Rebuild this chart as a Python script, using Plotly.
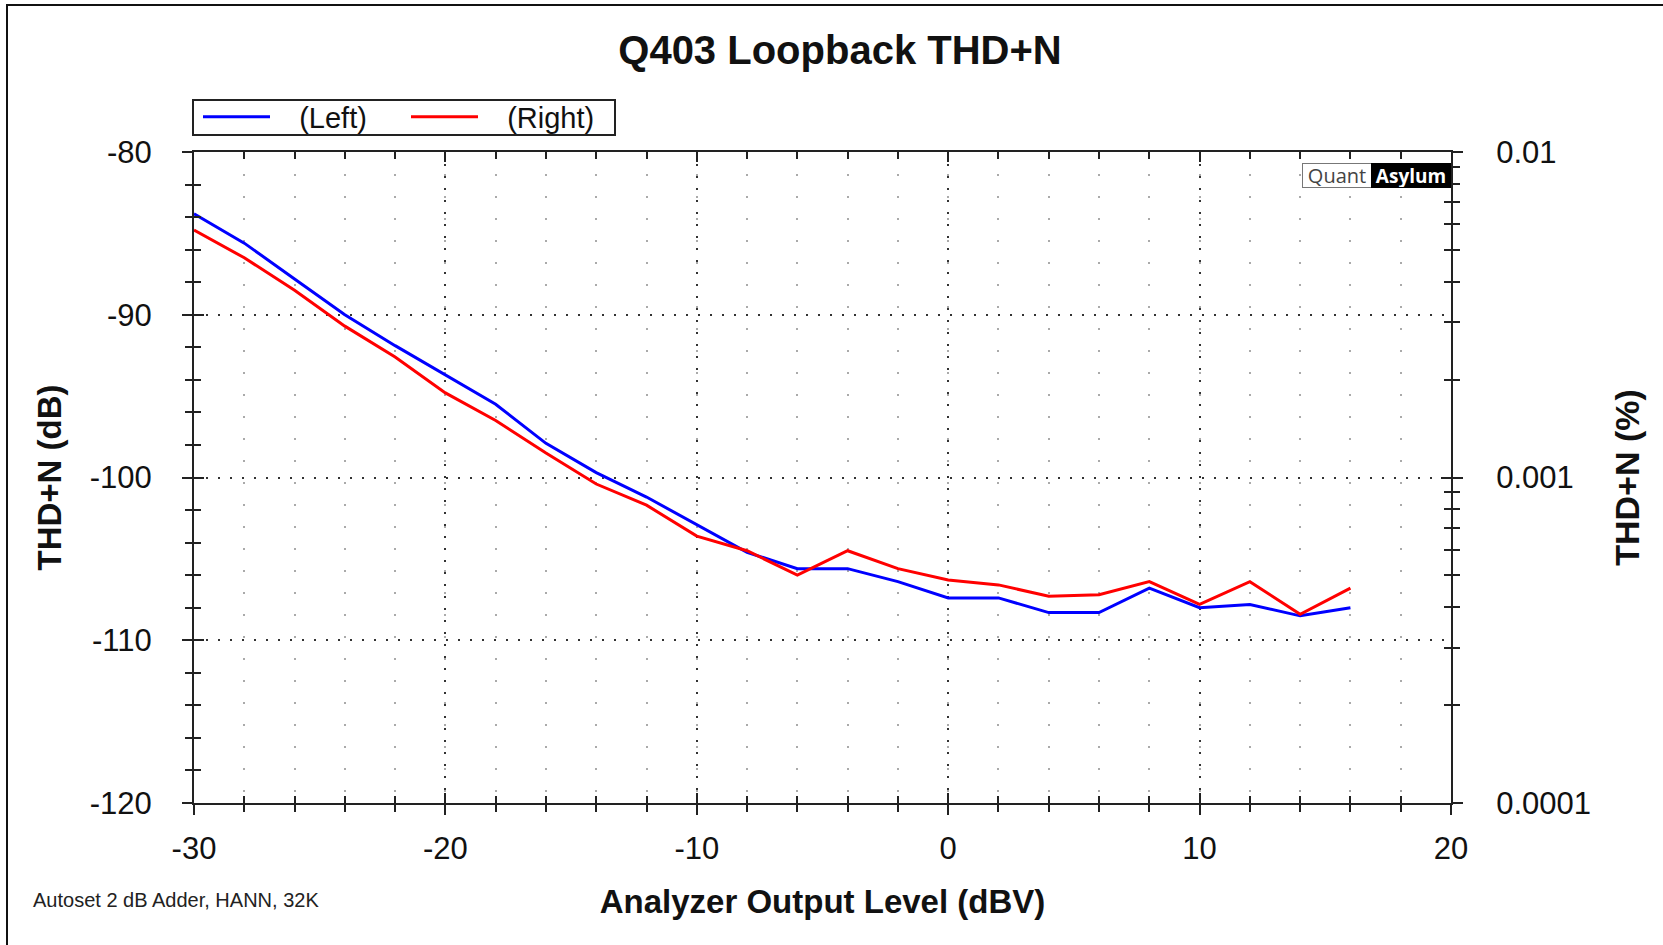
import plotly.graph_objects as go

# ---- data ----
level_dbv = [-30, -28, -26, -24, -22, -20, -18, -16, -14, -12, -10, -8,
             -6, -4, -2, 0, 2, 4, 6, 8, 10, 12, 14, 16]
left_db = [-83.8, -85.6, -87.8, -90.0, -91.9, -93.7, -95.5, -97.9, -99.7, -101.2, -102.9, -104.6,
           -105.6, -105.6, -106.4, -107.4, -107.4, -108.3, -108.3, -106.8, -108.0, -107.8, -108.5, -108.0]
right_db = [-84.8, -86.5, -88.5, -90.7, -92.6, -94.8, -96.5, -98.5, -100.4, -101.7, -103.6, -104.5,
            -106.0, -104.5, -105.6, -106.3, -106.6, -107.3, -107.2, -106.4, -107.8, -106.4, -108.4, -106.8]
series_names = ["(Left)", "(Right)"]
series_colors = ["#0000ff", "#ff0000"]

x_range = [-30, 20]
x_tickvals = [-30, -20, -10, 0, 10, 20]
x_ticktext = ["-30", "-20", "-10", "0", "10", "20"]
db_range = [-120, -80]
db_tickvals = [-120, -110, -100, -90, -80]
db_ticktext = ["-120", "-110", "-100", "-90", "-80"]
pct_tickvals = [0.0001, 0.001, 0.01]
pct_ticktext = ["0.0001", "0.001", "0.01"]
pct_minor = [m * d for d in (0.0001, 0.001) for m in range(2, 10)]

FONT = "Liberation Sans, Arial, sans-serif"
W, H = 1663, 945
L, R, T, B = 194, 212, 152, 142
PW, PH = W - L - R, H - T - B

def px_x(px):
    return (px - L) / PW

def px_y(py):
    return (H - B - py) / PH

NBSP = "\u00a0"
fig = go.Figure()
for name, ys, col in zip(series_names, [left_db, right_db], series_colors):
    fig.add_trace(go.Scatter(x=level_dbv, y=ys, mode="lines", name=NBSP * 3 + name,
                             line=dict(color=col, width=3), xaxis="x", yaxis="y"))
# empty traces so that the extra tick/label axes get drawn
for xa, ya in [("x2", "y"), ("x", "y2"), ("x", "y3"), ("x", "y4")]:
    fig.add_trace(go.Scatter(x=[], y=[], xaxis=xa, yaxis=ya, showlegend=False,
                             hoverinfo="skip", mode="lines"))

axis_line = dict(showline=True, linecolor="#222", linewidth=2, zeroline=False)
tickfont = dict(family=FONT, size=31, color="#111")
TK = "#222"

fig.update_layout(
    width=W, height=H,
    margin=dict(l=L, r=R, t=T, b=B, autoexpand=False),
    paper_bgcolor="white", plot_bgcolor="white",
    font=dict(family=FONT, color="#111"),
    title=dict(text="<b>Q403 Loopback THD+N</b>", x=px_x(792 * 1663 / 1568), xref="paper",
               xanchor="center", y=1 - 50 / H, yanchor="middle",
               font=dict(family=FONT, size=40, color="#111")),
    showlegend=True,
    legend=dict(orientation="h", x=px_x(198), y=px_y(117), xanchor="left", yanchor="middle",
                borderwidth=0, bgcolor="rgba(0,0,0,0)",
                font=dict(family=FONT, size=29, color="#111"),
                itemwidth=67, entrywidth=126, tracegroupgap=0),
    xaxis=dict(range=x_range, autorange=False, tickmode="array",
               tickvals=x_tickvals, ticktext=x_ticktext,
               ticks="outside", ticklen=10, tickwidth=2, tickcolor=TK,
               ticklabelstandoff=7, tickfont=tickfont,
               showgrid=True, gridcolor="#333", gridwidth=2, griddash="2px 10px",
               minor=dict(dtick=2, tick0=-30, ticks="outside", ticklen=7, tickwidth=2, tickcolor=TK,
                          showgrid=True, gridcolor="#aaa", gridwidth=2, griddash="2px 20px"),
               title=dict(text="<b>Analyzer Output Level (dBV)</b>", standoff=25,
                          font=dict(family=FONT, size=33, color="#111")),
               **axis_line),
    xaxis2=dict(range=x_range, autorange=False, overlaying="x", anchor="y", side="bottom",
                tickmode="array", tickvals=x_tickvals,
                ticks="inside", ticklen=10, tickwidth=2, tickcolor=TK,
                mirror="allticks", showticklabels=False, showgrid=False,
                minor=dict(dtick=2, tick0=-30, ticks="inside", ticklen=7, tickwidth=2, tickcolor=TK,
                           showgrid=False),
                **axis_line),
    yaxis=dict(range=db_range, autorange=False, tickmode="array",
               tickvals=db_tickvals, ticktext=db_ticktext,
               ticks="outside", ticklen=10, tickwidth=2, tickcolor=TK,
               ticklabelstandoff=24, tickfont=tickfont,
               showgrid=True, gridcolor="#333", gridwidth=2, griddash="2px 10px",
               minor=dict(dtick=2, tick0=-120, ticks="outside", ticklen=7, tickwidth=2, tickcolor=TK,
                          showgrid=False),
               title=dict(text="<b>THD+N (dB)</b>", standoff=18,
                          font=dict(family=FONT, size=33, color="#111")),
               **axis_line),
    yaxis3=dict(range=db_range, autorange=False, overlaying="y", anchor="x", side="left",
                tickmode="array", tickvals=db_tickvals,
                ticks="inside", ticklen=10, tickwidth=2, tickcolor=TK,
                showticklabels=False, showgrid=False,
                minor=dict(dtick=2, tick0=-120, ticks="inside", ticklen=7, tickwidth=2, tickcolor=TK,
                           showgrid=False),
                **axis_line),
    yaxis2=dict(type="log", range=[-4, -2], autorange=False, overlaying="y", anchor="x", side="right",
                tickmode="array", tickvals=pct_tickvals, ticktext=pct_ticktext,
                ticks="outside", ticklen=10, tickwidth=2, tickcolor=TK,
                ticklabelstandoff=27, tickfont=tickfont, showgrid=False,
                minor=dict(tickmode="array", tickvals=pct_minor, ticks="outside", ticklen=7,
                           tickwidth=2, tickcolor=TK, showgrid=False),
                title=dict(text="<b>THD+N (%)</b>", standoff=25,
                           font=dict(family=FONT, size=34, color="#111")),
                **axis_line),
    yaxis4=dict(type="log", range=[-4, -2], autorange=False, overlaying="y", anchor="x", side="right",
                tickmode="array", tickvals=pct_tickvals,
                ticks="inside", ticklen=10, tickwidth=2, tickcolor=TK,
                showticklabels=False, showgrid=False,
                minor=dict(tickmode="array", tickvals=pct_minor, ticks="inside", ticklen=7,
                           tickwidth=2, tickcolor=TK, showgrid=False),
                **axis_line),
)

# legend frame
fig.add_shape(type="rect", xref="paper", yref="paper",
              x0=px_x(193), x1=px_x(615), y0=px_y(135), y1=px_y(100),
              line=dict(color="#222", width=2), fillcolor="rgba(0,0,0,0)", layer="above")

# outer frame (left and top edges visible in the reference)
fig.add_shape(type="rect", xref="paper", yref="paper",
              x0=px_x(7), y0=px_y(1000), x1=px_x(1720), y1=px_y(5),
              line=dict(color="#111", width=2), fillcolor="rgba(0,0,0,0)", layer="above")

# QuantAsylum badge
fig.add_annotation(text="Quant", xref="paper", yref="paper", x=px_x(1372), y=px_y(176),
                   xanchor="right", yanchor="middle", showarrow=False, width=68, height=23,
                   font=dict(family="Open Sans, sans-serif", size=20, color="#444"),
                   bgcolor="white", bordercolor="#777", borderwidth=1, borderpad=0)
fig.add_annotation(text="<b>Asylum</b>", xref="paper", yref="paper", x=1.0, y=px_y(176),
                   xanchor="right", yanchor="middle", showarrow=False, width=78, height=23,
                   font=dict(family="Open Sans, sans-serif", size=19, color="white"),
                   bgcolor="black", bordercolor="black", borderwidth=1, borderpad=0)

# footnote
fig.add_annotation(text="Autoset 2 dB Adder, HANN, 32K", xref="paper", yref="paper",
                   x=px_x(31), y=px_y(900), xanchor="left", yanchor="middle", showarrow=False,
                   font=dict(family=FONT, size=20, color="#222"))

fig.write_html("out.html", config={"displayModeBar": False},
               post_script="document.body.style.margin='0';")
